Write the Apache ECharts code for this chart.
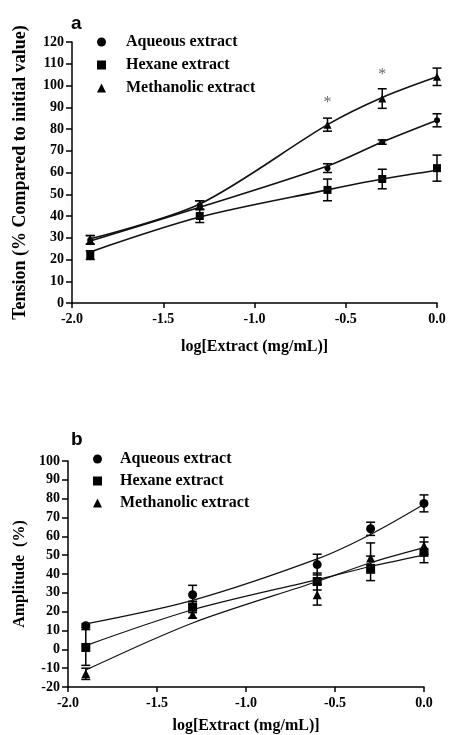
<!DOCTYPE html>
<html>
<head>
<meta charset="utf-8">
<script src="https://cdn.jsdelivr.net/npm/echarts@6/dist/echarts.min.js"></script>
<style>
  html, body { margin: 0; padding: 0; background: #fff; }
  #chart { width: 449px; height: 735px; }
</style>
</head>
<body>
<div id="chart"></div>
<script>
// log doses
var logDose = [-1.9, -1.3, -0.6, -0.3, 0];
var seriesNames = ['Aqueous extract', 'Hexane extract', 'Methanolic extract'];
var xTicks = [-2.0, -1.5, -1.0, -0.5, 0.0];

// panel a : tension
var tensionAqueous = [29, 45, 62, 74, 84];
var tensionAqueousErr = [2, 2, 2, 1, 3];
var tensionHexane = [22, 40, 52, 57, 62];
var tensionHexaneErr = [2, 3, 5, 4.5, 6];
var tensionMethanol = [29, 45, 82, 94, 104];
var tensionMethanolErr = [2, 2, 3, 4.5, 4];
// fitted curves
var tensionFitAqueous = [28.5, 44, 63, 74, 84];
var tensionFitHexane = [23.5, 39.5, 52, 57, 61];
var tensionFitMethanol = [29.5, 45.5, 82, 94.5, 104];
var tensionStars = [[-0.6, 92], [-0.3, 105]];

// panel b : amplitude
var ampAqueous = [12.5, 29, 45, 64, 77.5];
var ampAqueousErr = [1, 5, 5.5, 3.5, 4.5];
var ampHexane = [1, 22.5, 36, 43, 51.5];
var ampHexaneErr = [9.5, 3, 4.5, 6.5, 5.5];
var ampMethanol = [-13, 18.5, 29, 48.5, 55];
var ampMethanolErr = [3, 2, 5.5, 8, 4.5];
var ampFitAqueous = [13.5, 26, 48, 61, 77];
var ampFitHexane = [2, 21, 37, 44, 50];
var ampFitMethanol = [-11, 14, 36, 46, 54];

var serif = '"Liberation Serif", "Times New Roman", serif';

function pts(ys) {
    return logDose.map(function (x, i) { return [x, ys[i]]; });
}
function errPts(ys, es) {
    return logDose.map(function (x, i) { return [x, ys[i], es[i]]; });
}

// 误差线
function renderErr(params, api) {
    var x = api.value(0), y = api.value(1), e = api.value(2);
    var hi = api.coord([x, y + e]);
    var lo = api.coord([x, y - e]);
    var w = 4.5;
    var st = { stroke: '#000', lineWidth: 1.5 };
    return {
        type: 'group',
        children: [
            { type: 'line', shape: { x1: hi[0], y1: hi[1], x2: lo[0], y2: lo[1] }, style: st },
            { type: 'line', shape: { x1: hi[0] - w, y1: hi[1], x2: hi[0] + w, y2: hi[1] }, style: st },
            { type: 'line', shape: { x1: lo[0] - w, y1: lo[1], x2: lo[0] + w, y2: lo[1] }, style: st }
        ]
    };
}

function xAxisOf(gridIndex, nameGap) {
    return {
        type: 'value', gridIndex: gridIndex, min: -2, max: 0, interval: 0.5,
        name: 'log[Extract (mg/mL)]', nameLocation: 'middle', nameGap: nameGap,
        nameTextStyle: { fontFamily: serif, fontWeight: 'bold', fontSize: 16, color: '#000' },
        axisLine: { onZero: false, lineStyle: { color: '#000', width: 1.5 } },
        axisTick: { show: true, inside: false, length: 5, lineStyle: { color: '#000', width: 1.5 } },
        axisLabel: {
            margin: 9, fontFamily: serif, fontWeight: 'bold', fontSize: 14, color: '#000',
            formatter: function (v) { return v.toFixed(1); }
        },
        splitLine: { show: false }
    };
}

function yAxisOf(gridIndex, min, max, name, nameGap, nameSize) {
    return {
        type: 'value', gridIndex: gridIndex, min: min, max: max, interval: 10,
        name: name, nameLocation: 'middle', nameGap: nameGap,
        nameTextStyle: { fontFamily: serif, fontWeight: 'bold', fontSize: nameSize, color: '#000' },
        axisLine: { show: true, onZero: false, lineStyle: { color: '#000', width: 1.5 } },
        axisTick: { show: true, inside: false, length: 6, lineStyle: { color: '#000', width: 1.5 } },
        axisLabel: { margin: 8, fontFamily: serif, fontWeight: 'bold', fontSize: 14, color: '#000' },
        splitLine: { show: false }
    };
}

function fitLine(name, ys, idx, width) {
    return {
        name: name, type: 'line', xAxisIndex: idx, yAxisIndex: idx,
        data: pts(ys), smooth: 0.3, showSymbol: false, silent: true,
        lineStyle: { color: '#111', width: width }
    };
}
function errSeries(ys, es, idx) {
    return {
        type: 'custom', xAxisIndex: idx, yAxisIndex: idx, silent: true,
        renderItem: renderErr, data: errPts(ys, es)
    };
}
function markSeries(name, ys, idx, symbol, size) {
    return {
        name: name, type: 'scatter', xAxisIndex: idx, yAxisIndex: idx,
        data: pts(ys), symbol: symbol, symbolSize: size,
        itemStyle: { color: '#000', opacity: 1 }
    };
}
function legendOf(left, top, gap, pad) {
    return {
        orient: 'vertical', left: left, top: top, itemGap: gap,
        itemWidth: 9, itemHeight: 9, selectedMode: false,
        data: seriesNames,
        textStyle: {
            fontFamily: serif, fontWeight: 'bold', fontSize: 16, color: '#000',
            padding: [0, 0, 0, pad]
        }
    };
}

var chart = echarts.init(document.getElementById('chart'), null, { renderer: 'canvas' });
chart.setOption({
    animation: false,
    backgroundColor: '#fff',
    title: [
        { text: 'a', left: 66, top: 9, textStyle: { fontFamily: '"Liberation Sans", Arial, sans-serif', fontWeight: 'bold', fontSize: 19, color: '#000' } },
        { text: 'b', left: 66, top: 425, textStyle: { fontFamily: '"Liberation Sans", Arial, sans-serif', fontWeight: 'bold', fontSize: 19, color: '#000' } }
    ],
    legend: [legendOf(92, 29, 7, 15), legendOf(88, 446, 6, 13)],
    grid: [
        { left: 72, right: 12, top: 42, bottom: 432, outerBoundsMode: 'none', containLabel: false },
        { left: 68, right: 25, top: 461, bottom: 48, outerBoundsMode: 'none', containLabel: false }
    ],
    xAxis: [xAxisOf(0, 36), xAxisOf(1, 31)],
    yAxis: [
        yAxisOf(0, 0, 120, 'Tension (% Compared to initial value)', 43, 18),
        yAxisOf(1, -20, 100, 'Amplitude  (%)', 35, 16)
    ],
    series: [
        fitLine('fitA1', tensionFitAqueous, 0, 1.6),
        fitLine('fitA2', tensionFitHexane, 0, 1.6),
        fitLine('fitA3', tensionFitMethanol, 0, 1.6),
        errSeries(tensionAqueous, tensionAqueousErr, 0),
        errSeries(tensionHexane, tensionHexaneErr, 0),
        errSeries(tensionMethanol, tensionMethanolErr, 0),
        markSeries(seriesNames[0], tensionAqueous, 0, 'circle', 6),
        markSeries(seriesNames[1], tensionHexane, 0, 'rect', 8),
        markSeries(seriesNames[2], tensionMethanol, 0, 'triangle', 8),
        {
            type: 'scatter', xAxisIndex: 0, yAxisIndex: 0, data: tensionStars,
            symbolSize: 0, silent: true,
            label: { show: true, position: 'inside', formatter: '*', fontFamily: serif, fontSize: 16, color: '#444' }
        },

        fitLine('fitB1', ampFitAqueous, 1, 1.2),
        fitLine('fitB2', ampFitHexane, 1, 1.2),
        fitLine('fitB3', ampFitMethanol, 1, 1.2),
        errSeries(ampAqueous, ampAqueousErr, 1),
        errSeries(ampHexane, ampHexaneErr, 1),
        errSeries(ampMethanol, ampMethanolErr, 1),
        markSeries(seriesNames[0], ampAqueous, 1, 'circle', 9),
        markSeries(seriesNames[1], ampHexane, 1, 'rect', 9),
        markSeries(seriesNames[2], ampMethanol, 1, 'triangle', 9)
    ]
});
</script>
</body>
</html>
